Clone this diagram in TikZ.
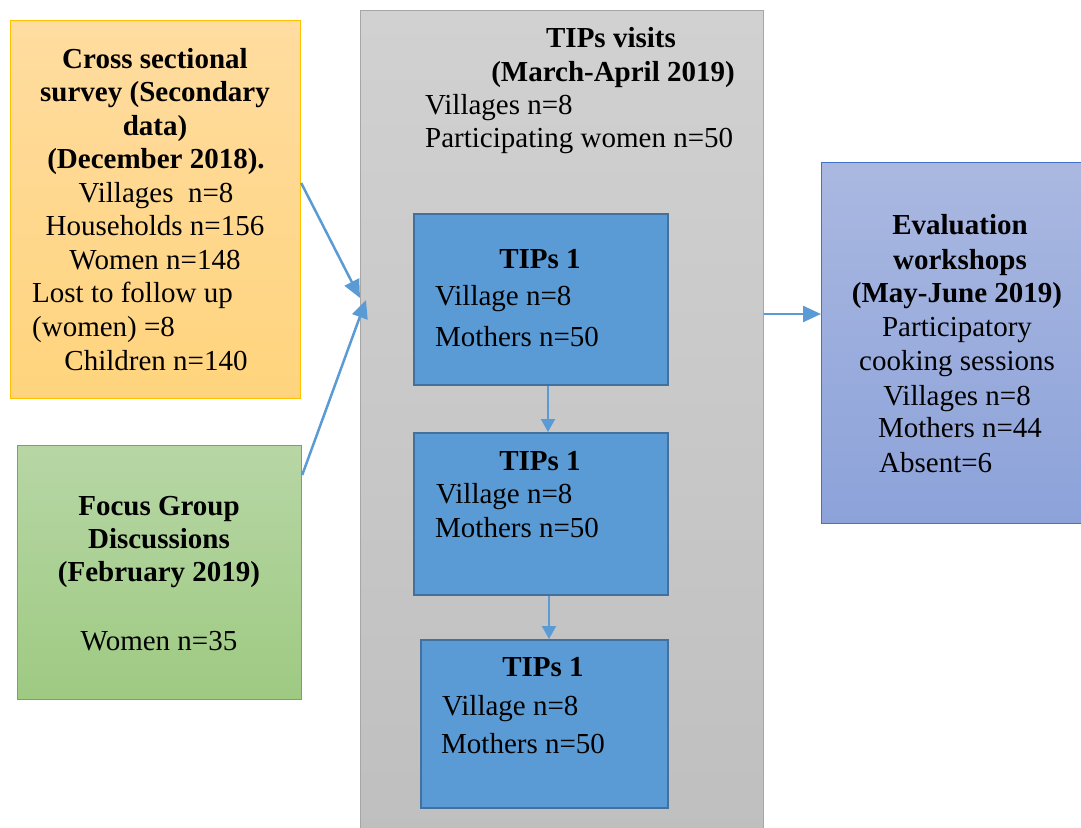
\documentclass[tikz,border=0pt]{standalone}
\usepackage{fontspec}
\setmainfont{Liberation Serif}
\usetikzlibrary{arrows.meta}
\definecolor{arrowblue}{RGB}{91,155,213}
\definecolor{orangetop}{RGB}{255,220,160}
\definecolor{orangebot}{RGB}{255,212,125}
\definecolor{orangeline}{RGB}{255,192,0}
\definecolor{greentop}{RGB}{183,214,165}
\definecolor{greenbot}{RGB}{158,202,130}
\definecolor{greenline}{RGB}{112,173,71}
\definecolor{graytop}{RGB}{209,209,209}
\definecolor{graybot}{RGB}{191,191,191}
\definecolor{grayline}{RGB}{166,166,166}
\definecolor{boxblue}{RGB}{91,155,213}
\definecolor{boxblueline}{RGB}{65,113,156}
\definecolor{evaltop}{RGB}{170,184,225}
\definecolor{evalbot}{RGB}{140,162,217}
\definecolor{evalline}{RGB}{68,114,196}
\tikzset{
  panel/.style={draw, line width=1.2pt, anchor=north west, inner sep=0pt},
  tipbox/.style={panel, fill=boxblue, draw=boxblueline, line width=2pt},
  txt/.style={anchor=base, inner sep=0pt, font=\fontsize{29}{33}\selectfont},
  btxt/.style={txt, font=\fontsize{29}{33}\selectfont\bfseries},
  ltxt/.style={txt, anchor=base west},
  flow/.style={draw=arrowblue, line width=2.5pt, -{Triangle[width=16pt,length=18pt]}},
  vflow/.style={draw=arrowblue, line width=2pt, -{Triangle[width=14pt,length=13pt]}}
}
\begin{document}
\begin{tikzpicture}[x=1pt,y=-1pt]
\useasboundingbox (0,0) rectangle (1081,827);
% boxes
\node[panel, draw=orangeline, top color=orangetop, bottom color=orangebot, minimum width=290pt, minimum height=378pt] (orange) at (10,20) {};
\node[panel, draw=greenline, top color=greentop, bottom color=greenbot, minimum width=284pt, minimum height=254pt] (green) at (17,445) {};
\node[panel, draw=grayline, top color=graytop, bottom color=graybot, minimum width=403pt, minimum height=830pt] (gray) at (360,10) {};
\node[panel, draw=evalline, top color=evaltop, bottom color=evalbot, minimum width=270pt, minimum height=361pt] (eval) at (821,162) {};
\node[tipbox, minimum width=254pt, minimum height=171pt] (b1) at (413,213) {};
\node[tipbox, minimum width=254pt, minimum height=162pt] (b2) at (413,432) {};
\node[tipbox, minimum width=247pt, minimum height=168pt] (b3) at (420,639) {};
% orange text
\node[btxt] (o1) at (155,68) {Cross sectional};
\node[btxt] (o2) at (155,101) {survey (Secondary};
\node[btxt] (o3) at (155,135) {data)};
\node[btxt] (o4) at (156,168) {(December 2018).};
\node[txt] (o5) at (156,202) {Villages \ n=8};
\node[txt] (o6) at (155,235) {Households n=156};
\node[txt] (o7) at (155,269) {Women n=148};
\node[ltxt] (o8) at (32,302) {Lost to follow up};
\node[ltxt] (o9) at (32,336) {(women) =8};
\node[txt] (o10) at (156,370) {Children n=140};
% green text
\node[btxt] (g1) at (159,515) {Focus Group};
\node[btxt] (g2) at (159,548) {Discussions};
\node[btxt] (g3) at (159,581) {(February 2019)};
\node[txt] (g4) at (159,650) {Women n=35};
% gray text
\node[btxt] (t1) at (611,47) {TIPs visits};
\node[btxt] (t2) at (613,81) {(March-April 2019)};
\node[ltxt] (t3) at (425,114) {Villages n=8};
\node[ltxt] (t4) at (425,147) {Participating women n=50};
% blue box texts
\node[btxt] (b1t) at (540,268) {TIPs 1};
\node[ltxt] (b1a) at (435,305) {Village n=8};
\node[ltxt] (b1b) at (435,346) {Mothers n=50};
\node[btxt] (b2t) at (540,470) {TIPs 1};
\node[ltxt] (b2a) at (436,503) {Village n=8};
\node[ltxt] (b2b) at (435,537) {Mothers n=50};
\node[btxt] (b3t) at (543,676) {TIPs 1};
\node[ltxt] (b3a) at (442,715) {Village n=8};
\node[ltxt] (b3b) at (441,753) {Mothers n=50};
% evaluation text
\node[btxt] (e1) at (960,234) {Evaluation};
\node[btxt] (e2) at (960,269) {workshops};
\node[btxt] (e3) at (957,302) {(May-June 2019)};
\node[txt] (e4) at (957,336) {Participatory};
\node[txt] (e5) at (957,370) {cooking sessions};
\node[txt] (e6) at (957,405) {Villages n=8};
\node[txt] (e7) at (960,437) {Mothers n=44};
\node[ltxt] (e8) at (879,472) {Absent=6};
% connectors
\draw[flow] ([yshift=-163pt]orange.north east) -- ([yshift=-288pt]gray.north west);
\draw[flow] ([yshift=-30pt]green.north east) -- ([xshift=6pt,yshift=-290pt]gray.north west);
\draw[flow] ([yshift=-304pt]gray.north east) -- ([yshift=-152pt]eval.north west);
\draw[vflow] ([xshift=7pt]b1.south) -- ([xshift=7pt]b2.north);
\draw[vflow] ([xshift=8pt]b2.south) -- ([xshift=4.5pt]b3.north);
\end{tikzpicture}
\end{document}
